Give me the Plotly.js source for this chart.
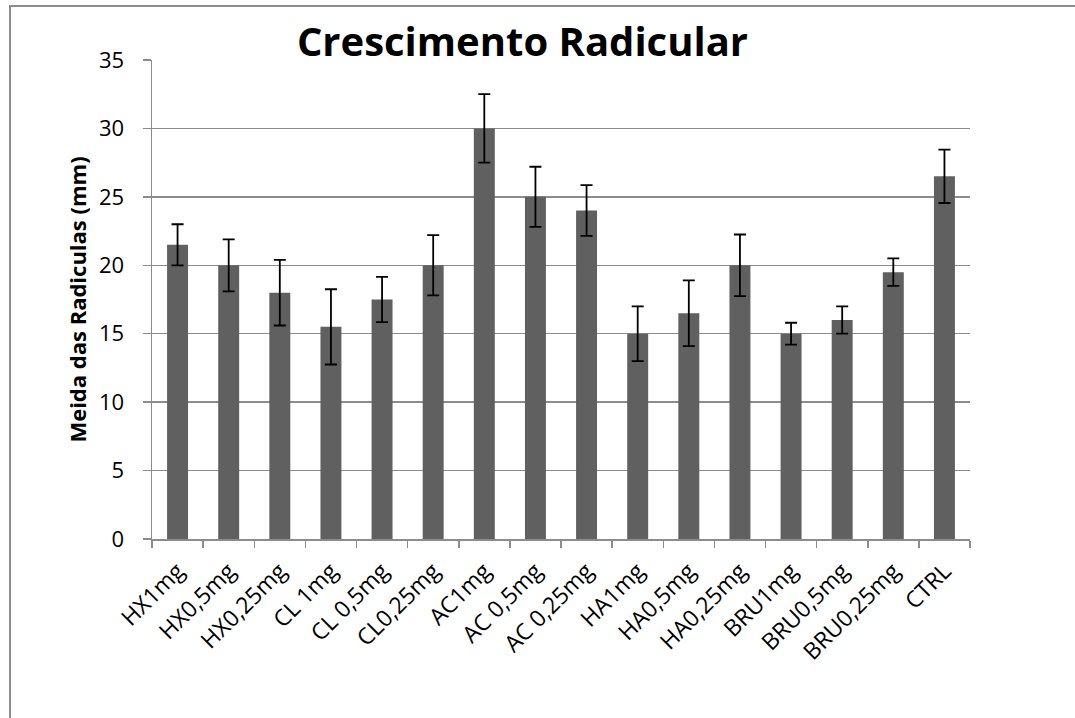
<!DOCTYPE html>
<html>
<head>
<meta charset="utf-8">
<script src="https://cdn.plot.ly/plotly-3.0.1.min.js"></script>
<style>
html,body{margin:0;padding:0;background:#fff;}
#frame{position:absolute;left:9px;top:5px;width:1100px;height:800px;border-left:2px solid #8c8c8c;border-top:2px solid #8c8c8c;}
#chart{position:absolute;left:0;top:0;width:1075px;height:718px;}
</style>
</head>
<body>
<div id="frame"></div>
<div id="chart"></div>
<script>
const categories = ["HX1mg","HX0,5mg","HX0,25mg","CL 1mg","CL 0,5mg","CL0,25mg","AC1mg","AC 0,5mg","AC 0,25mg","HA1mg","HA0,5mg","HA0,25mg","BRU1mg","BRU0,5mg","BRU0,25mg","CTRL"];
const means = [21.5, 20, 18, 15.5, 17.5, 20, 30, 25, 24, 15, 16.5, 20, 15, 16, 19.5, 26.5];
const errors = [1.5, 1.9, 2.4, 2.75, 1.65, 2.2, 2.5, 2.2, 1.85, 2.0, 2.4, 2.25, 0.8, 1.0, 1.0, 1.95];
const yTicks = [0, 5, 10, 15, 20, 25, 30, 35];

const font = "Open Sans, Liberation Sans, sans-serif";

const trace = {
  type: "bar",
  x: categories,
  y: means,
  marker: {color: "#606060"},
  error_y: {type: "data", array: errors, visible: true, color: "#000000", thickness: 1.8, width: 6},
  hoverinfo: "x+y"
};

const layout = {
  width: 1075,
  height: 718,
  paper_bgcolor: "rgba(0,0,0,0)",
  plot_bgcolor: "rgba(0,0,0,0)",
  margin: {l: 152, r: 105, t: 60, b: 179},
  bargap: 0.59,
  showlegend: false,
  title: {
    text: "<b>Crescimento Radicular</b>",
    font: {family: font, size: 40, color: "#000"},
    xref: "container", x: 0.486, xanchor: "center",
    yref: "container", y: 0.941, yanchor: "middle"
  },
  xaxis: {
    type: "category",
    tickangle: -45,
    tickfont: {family: font, size: 23, color: "#000"},
    ticklabelstandoff: 8,
    showline: true, linecolor: "#8c8c8c", linewidth: 1.5,
    ticks: "outside", tickson: "boundaries", ticklen: 7, tickcolor: "#8c8c8c", tickwidth: 1.5,
    showgrid: false,
    range: [-0.5, 15.5]
  },
  yaxis: {
    range: [0, 35],
    tickvals: yTicks,
    ticktext: yTicks.map(String),
    tickfont: {family: font, size: 22, color: "#000"},
    ticklabelstandoff: 14,
    showline: true, linecolor: "#8c8c8c", linewidth: 1.5,
    ticks: "outside", ticklen: 8, tickcolor: "#8c8c8c", tickwidth: 1.5,
    showgrid: true, gridcolor: "#8c8c8c", gridwidth: 1.5,
    zeroline: false,
    title: {text: "<b>Meida das Radiculas (mm)</b>", font: {family: font, size: 22, color: "#000"}, standoff: 6}
  }
};

Plotly.newPlot("chart", [trace], layout, {displayModeBar: false, staticPlot: true});
</script>
</body>
</html>
